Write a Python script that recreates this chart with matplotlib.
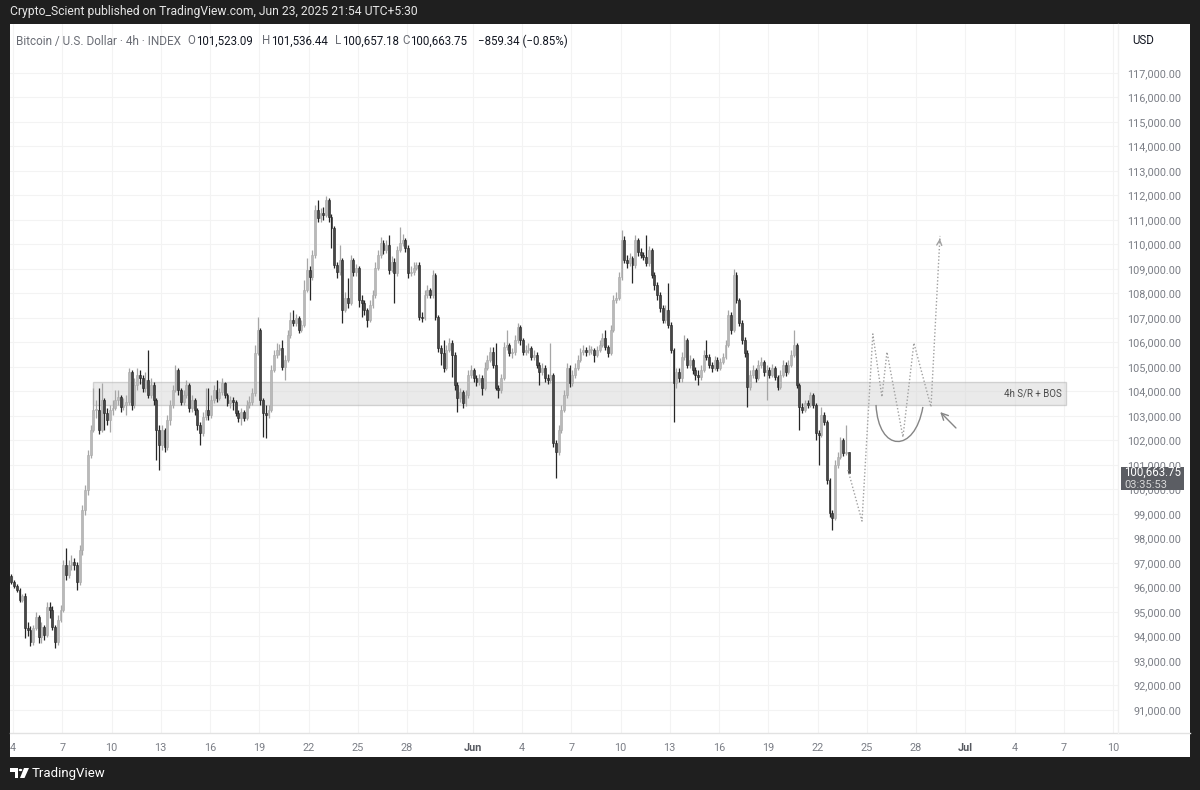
import datetime as dt
import matplotlib
matplotlib.use("Agg")
import matplotlib.pyplot as plt
import matplotlib.dates as mdates
from matplotlib.patches import Rectangle, Polygon, Circle, PathPatch
from matplotlib.path import Path
from matplotlib.lines import Line2D

plt.rcParams['font.family'] = ['Roboto', 'DejaVu Sans']

# ---------------- data (prices in thousands USD, 4h candles) ----------------
first_candle = dt.datetime(2025, 5, 3, 21, 30)
first_open = 96.47
closes = [
    96.23, 96.07, 95.90, 95.49, 95.66, 94.34, 94.27, 93.78, 94.34, 94.79,
    93.98, 94.38, 94.07, 95.20, 95.08, 94.38, 93.78, 94.67, 95.08, 96.92,
    96.51, 96.92, 97.04, 96.92, 96.23, 97.53, 99.16, 99.98, 101.41, 102.43,
    103.24, 103.24, 102.43, 103.65, 103.12, 102.84, 103.24, 103.32, 103.65, 103.77,
    103.36, 103.45, 103.57, 104.80, 103.45, 104.27, 104.68, 104.55, 104.14, 104.47,
    103.86, 104.27, 103.65, 102.43, 101.82, 102.43, 101.73, 102.84, 103.45, 104.06,
    104.88, 104.06, 103.57, 103.86, 104.27, 103.32, 103.65, 103.24, 102.64, 102.31,
    102.95, 103.24, 103.04, 103.65, 104.06, 103.73, 103.98, 104.35, 103.86, 103.53,
    103.65, 103.57, 103.12, 102.91, 103.16, 102.91, 103.45, 103.57, 103.94, 105.57,
    106.51, 103.65, 103.12, 103.04, 103.24, 104.88, 105.49, 105.69, 105.77, 105.00,
    105.29, 106.31, 106.92, 106.80, 107.00, 106.51, 106.72, 108.14, 108.96, 108.67,
    109.58, 111.41, 111.08, 111.29, 111.21, 111.82, 111.12, 110.67, 109.17, 108.88,
    109.37, 107.33, 107.81, 107.61, 109.37, 108.88, 109.04, 107.73, 107.61, 107.33,
    106.92, 107.53, 107.94, 109.04, 109.58, 110.06, 109.78, 109.98, 108.96, 109.29,
    108.84, 109.78, 110.06, 110.18, 109.85, 108.84, 108.88, 109.04, 109.17, 107.04,
    107.00, 107.94, 108.14, 107.94, 108.76, 107.04, 105.77, 105.57, 104.96, 105.69,
    105.98, 105.49, 104.27, 103.73, 103.98, 103.53, 103.86, 104.68, 104.88, 104.55,
    104.39, 104.55, 104.14, 104.96, 105.29, 105.61, 105.09, 104.14, 104.06, 104.55,
    105.81, 105.90, 105.57, 105.61, 106.10, 106.63, 106.10, 105.61, 105.69, 105.77,
    105.40, 105.49, 105.09, 104.80, 104.96, 104.55, 104.47, 104.68, 101.90, 101.53,
    102.43, 103.24, 103.86, 104.96, 104.35, 104.68, 104.96, 105.29, 105.61, 105.69,
    105.61, 105.69, 105.69, 105.49, 105.69, 105.90, 106.18, 105.81, 105.57, 106.51,
    107.73, 107.81, 108.67, 110.18, 109.37, 109.25, 109.45, 109.17, 110.18, 109.70,
    109.58, 109.49, 109.25, 109.78, 108.76, 108.35, 107.94, 107.40, 106.92, 107.33,
    106.72, 105.69, 104.35, 104.80, 104.55, 105.40, 106.10, 105.09, 105.29, 104.88,
    104.68, 104.59, 104.88, 105.49, 105.40, 105.09, 104.96, 105.29, 104.96, 105.21,
    105.40, 105.90, 107.13, 106.51, 108.76, 107.73, 106.80, 106.10, 105.57, 104.18,
    104.68, 104.88, 104.55, 105.09, 105.21, 104.80, 104.88, 104.68, 104.96, 104.59,
    104.18, 104.68, 105.09, 104.80, 105.09, 105.49, 105.90, 104.27, 103.36, 103.24,
    103.53, 103.45, 103.86, 103.45, 102.31, 102.23, 103.04, 102.76, 100.39, 99.04,
    98.83, 101.00, 101.32, 102.02, 101.49, 101.52309, 100.66375,
]
highs = [
    96.55, 96.31, 96.15, 95.98, 95.74, 95.78, 94.59, 94.43, 94.47, 95.00,
    94.88, 94.59, 94.47, 95.41, 95.41, 95.25, 94.47, 94.88, 95.29, 97.12,
    97.61, 97.12, 97.33, 97.20, 97.04, 97.74, 99.37, 100.18, 101.61, 102.63,
    104.14, 103.65, 104.14, 104.35, 103.73, 103.32, 103.45, 103.65, 104.06, 104.06,
    103.86, 103.73, 103.86, 104.96, 104.88, 104.55, 104.96, 104.88, 104.68, 104.80,
    105.69, 104.55, 104.39, 103.73, 102.63, 102.63, 102.51, 103.04, 103.65, 104.27,
    105.09, 104.96, 104.14, 104.06, 104.47, 104.35, 103.86, 103.73, 103.32, 102.76,
    103.16, 104.14, 104.14, 103.86, 104.27, 104.47, 104.14, 104.55, 104.39, 103.94,
    103.82, 103.77, 103.65, 103.24, 103.32, 103.24, 103.65, 103.82, 104.14, 105.90,
    107.04, 106.59, 103.73, 103.45, 103.45, 105.09, 105.69, 105.98, 105.94, 106.10,
    105.49, 106.51, 107.25, 107.33, 107.16, 107.08, 106.92, 108.55, 109.45, 109.12,
    109.78, 111.61, 111.82, 111.49, 111.53, 111.98, 111.90, 111.25, 110.75, 109.29,
    109.98, 109.45, 108.06, 108.63, 109.58, 109.45, 109.21, 109.12, 107.94, 107.73,
    107.40, 107.73, 108.14, 109.29, 109.78, 110.31, 110.18, 110.18, 110.39, 109.53,
    109.45, 109.94, 110.71, 110.43, 110.27, 109.98, 109.12, 109.29, 109.29, 109.29,
    107.25, 108.14, 108.35, 108.22, 108.96, 108.84, 107.12, 105.90, 106.10, 105.90,
    106.18, 106.10, 105.61, 104.39, 104.14, 104.06, 104.06, 104.88, 105.09, 104.96,
    104.68, 104.71, 104.68, 105.20, 105.49, 105.81, 105.81, 105.98, 104.27, 104.71,
    106.02, 106.51, 105.98, 105.77, 106.31, 106.80, 106.72, 106.18, 105.90, 105.98,
    105.86, 105.69, 105.61, 105.20, 105.16, 105.09, 104.71, 105.98, 104.76, 102.02,
    102.63, 103.45, 104.06, 105.16, 105.09, 104.88, 105.16, 105.49, 105.77, 105.90,
    105.81, 105.90, 105.86, 105.77, 105.86, 106.10, 106.39, 106.51, 105.90, 106.72,
    107.94, 108.06, 108.88, 110.59, 110.35, 109.58, 109.65, 109.53, 110.39, 110.27,
    109.86, 109.70, 110.39, 109.94, 109.86, 108.88, 108.47, 108.06, 107.53, 107.53,
    108.43, 106.84, 105.77, 104.96, 104.96, 105.61, 106.31, 106.18, 105.49, 105.37,
    105.00, 104.88, 105.09, 105.69, 106.10, 105.53, 105.20, 105.45, 105.41, 105.37,
    105.57, 106.10, 107.33, 107.25, 109.00, 108.88, 107.82, 106.92, 106.22, 105.69,
    104.88, 105.09, 104.96, 105.29, 105.41, 105.29, 105.09, 105.00, 105.12, 105.04,
    104.68, 104.88, 105.29, 105.20, 105.29, 105.69, 106.51, 105.98, 104.35, 103.53,
    103.65, 103.65, 103.98, 103.94, 103.53, 102.43, 103.37, 103.16, 102.84, 100.47,
    99.16, 101.20, 101.53, 102.14, 102.10, 102.63, 101.53644,
]
lows = [
    96.15, 95.98, 95.82, 95.41, 95.41, 93.94, 94.02, 93.61, 93.65, 94.27,
    93.73, 93.73, 93.86, 93.98, 94.75, 94.27, 93.53, 93.65, 94.59, 95.00,
    96.31, 96.39, 96.71, 96.71, 95.90, 96.10, 97.33, 98.96, 99.78, 101.29,
    102.35, 102.92, 102.27, 102.35, 102.43, 102.63, 102.35, 103.04, 103.24, 103.45,
    103.16, 103.24, 103.04, 103.45, 103.24, 103.32, 104.06, 104.31, 103.98, 103.98,
    103.73, 103.73, 103.45, 101.20, 100.80, 101.61, 101.53, 101.61, 102.63, 103.32,
    103.98, 103.86, 103.45, 103.45, 103.73, 103.16, 103.16, 103.04, 102.43, 101.82,
    102.18, 102.84, 102.84, 102.91, 103.53, 103.57, 103.65, 103.86, 103.73, 103.41,
    103.32, 103.24, 103.00, 102.76, 102.63, 102.80, 102.84, 103.32, 103.45, 103.82,
    105.49, 103.45, 102.14, 102.10, 102.91, 103.16, 104.80, 105.37, 105.49, 104.88,
    104.47, 105.20, 106.18, 106.67, 106.67, 106.39, 106.43, 106.63, 108.06, 107.73,
    108.55, 109.45, 110.92, 110.92, 111.00, 111.12, 110.92, 109.86, 109.04, 108.63,
    108.76, 106.80, 107.25, 107.41, 107.53, 108.71, 108.71, 107.45, 107.04, 107.12,
    106.63, 106.84, 107.41, 107.82, 108.96, 109.45, 109.61, 109.65, 108.80, 108.88,
    107.61, 108.71, 109.69, 109.94, 109.69, 108.63, 108.71, 108.76, 108.96, 106.92,
    106.84, 106.92, 107.82, 107.82, 107.82, 106.92, 105.61, 105.09, 104.80, 104.88,
    105.61, 104.59, 104.06, 103.16, 103.57, 103.32, 103.41, 103.73, 104.55, 104.39,
    104.22, 104.27, 103.86, 104.06, 104.88, 105.20, 104.96, 104.06, 103.73, 103.94,
    104.47, 105.69, 105.45, 105.37, 105.49, 105.98, 105.90, 105.49, 105.49, 105.57,
    105.29, 105.29, 104.96, 104.27, 104.68, 104.39, 104.31, 104.35, 101.73, 100.47,
    101.41, 102.31, 103.16, 103.73, 104.18, 104.22, 104.55, 104.88, 105.20, 105.49,
    105.45, 105.49, 105.53, 105.20, 105.41, 105.61, 105.81, 105.69, 105.41, 105.49,
    106.43, 107.61, 107.73, 108.55, 109.25, 109.04, 109.12, 108.43, 109.04, 109.53,
    109.45, 109.37, 109.12, 109.12, 108.63, 108.14, 107.73, 107.25, 106.80, 106.80,
    106.59, 105.57, 102.76, 104.14, 104.39, 104.39, 105.29, 104.96, 104.96, 104.71,
    104.47, 104.27, 104.47, 104.80, 105.29, 104.96, 104.80, 104.88, 104.84, 104.88,
    105.12, 105.33, 105.81, 106.35, 106.43, 107.61, 106.67, 105.94, 105.41, 103.37,
    104.06, 104.55, 104.39, 104.47, 104.96, 104.63, 103.65, 104.55, 104.59, 104.47,
    104.06, 104.10, 104.59, 104.63, 104.71, 105.00, 105.41, 104.14, 102.43, 103.12,
    103.16, 103.32, 103.37, 103.32, 102.02, 101.00, 102.14, 102.63, 100.22, 98.88,
    98.35, 98.75, 100.88, 101.24, 101.37, 101.41, 100.65718,
]

price_ticks = list(range(91, 118))          # thousands
date_ticks = [dt.datetime(2025, 5, d) for d in (4, 7, 10, 13, 16, 19, 22, 25, 28)] + \
             [dt.datetime(2025, 6, d) for d in (1, 4, 7, 10, 13, 16, 19, 22, 25, 28)] + \
             [dt.datetime(2025, 7, d) for d in (1, 4, 7, 10)]
date_labels = ['4', '7', '10', '13', '16', '19', '22', '25', '28',
               'Jun', '4', '7', '10', '13', '16', '19', '22', '25', '28',
               'Jul', '4', '7', '10']

# zone + drawings
zone_start = dt.datetime(2025, 5, 8, 21, 0)
zone_end = dt.datetime(2025, 7, 7, 3, 0)
zone_low, zone_high = 103.45, 104.37
zone_label = "4h S/R + BOS"
proj_times = [dt.datetime(2025, 6, 23, 20, 24), dt.datetime(2025, 6, 24, 17, 0),
              dt.datetime(2025, 6, 25, 8, 50), dt.datetime(2025, 6, 25, 22, 5),
              dt.datetime(2025, 6, 26, 5, 30), dt.datetime(2025, 6, 27, 4, 50),
              dt.datetime(2025, 6, 27, 20, 50), dt.datetime(2025, 6, 28, 21, 50),
              dt.datetime(2025, 6, 29, 11, 0)]
proj_prices = [100.80, 98.71, 106.35, 103.78, 105.61, 102.14, 105.98, 103.37, 110.35]
cup_times = [dt.datetime(2025, 6, 25, 13, 30), dt.datetime(2025, 6, 25, 17, 0),
             dt.datetime(2025, 6, 27, 22, 0), dt.datetime(2025, 6, 28, 10, 0)]
cup_prices = [103.45, 101.50, 101.45, 103.37]
arrow_tail = (dt.datetime(2025, 6, 30, 13, 10), 102.43)
arrow_head = (dt.datetime(2025, 6, 29, 8, 30), 103.24)

# ---------------- figure ----------------
W, H = 1200, 790
fig = plt.figure(figsize=(W / 100, H / 100), dpi=100, facecolor='#1f1f1f')


def fx(px):
    return px / W


def fy(py):
    return 1 - py / H


fig.patches.append(Rectangle((fx(10), fy(757)), fx(1180), 733 / H, transform=fig.transFigure,
                             facecolor='white', edgecolor='none', zorder=-5))
ax = fig.add_axes([fx(10), fy(733), fx(1108), 709 / H])
ax.set_zorder(2)
ax.set_facecolor('white')
for s in ax.spines.values():
    s.set_visible(False)

n = len(closes)
times = [first_candle + dt.timedelta(hours=4 * i) for i in range(n)]
tn = mdates.date2num(times)
opens = [first_open] + closes[:-1]
up_x, up_b, up_h, dn_x, dn_b, dn_h = [], [], [], [], [], []
wick_up, wick_dn = [], []
for i in range(n):
    o, c = opens[i] * 1000, closes[i] * 1000
    hi = max(highs[i] * 1000, o, c)
    lo = min(lows[i] * 1000, o, c)
    body_b = min(o, c)
    body_h = max(abs(c - o), 30)
    if c >= o:
        up_x.append(tn[i]); up_b.append(body_b); up_h.append(body_h)
        wick_up.append((tn[i], lo, hi))
    else:
        dn_x.append(tn[i]); dn_b.append(body_b); dn_h.append(body_h)
        wick_dn.append((tn[i], lo, hi))

ax.vlines([w[0] for w in wick_up], [w[1] for w in wick_up], [w[2] for w in wick_up],
          colors='#a6a6a6', lw=0.9, zorder=3)
ax.vlines([w[0] for w in wick_dn], [w[1] for w in wick_dn], [w[2] for w in wick_dn],
          colors='#262626', lw=0.9, zorder=3)
ax.bar(up_x, up_h, bottom=up_b, width=0.115, color='#b9b9b9', edgecolor='#a9a9a9',
       linewidth=0.4, zorder=4)
ax.bar(dn_x, dn_h, bottom=dn_b, width=0.115, color='#474747', edgecolor='#222222',
       linewidth=0.4, zorder=4)

x0 = mdates.date2num(dt.datetime(2025, 5, 4))
ax.set_xlim(x0 - 0.183, x0 + 67.30)
ax.set_ylim(90060, 119000)

# grid
for p in price_ticks:
    ax.axhline(p * 1000, color='#f3f3f3', lw=0.8, zorder=1)
for d in date_ticks:
    ax.axvline(mdates.date2num(d), color='#f3f3f3', lw=0.8, zorder=1)

# ticks
ax.yaxis.tick_right()
ax.set_yticks([p * 1000 for p in price_ticks])
ax.set_yticklabels([f"{p * 1000:,.2f}" for p in price_ticks])
ax.tick_params(axis='y', length=0, pad=45.5, labelsize=7.8, labelcolor='#7b7e86')
for lab in ax.get_yticklabels():
    lab.set_horizontalalignment('right')
ax.set_xticks(mdates.date2num(date_ticks))
ax.set_xticklabels(date_labels)
ax.tick_params(axis='x', length=0, pad=7, labelsize=7.8, labelcolor='#7b7e86')
for lab in ax.get_xticklabels():
    if lab.get_text() in ('Jun', 'Jul'):
        lab.set_color('#55585f')
        lab.set_fontweight('bold')

# S/R zone
zs, ze = mdates.date2num(zone_start), mdates.date2num(zone_end)
ax.add_patch(Rectangle((zs, zone_low * 1000), ze - zs, (zone_high - zone_low) * 1000,
                       facecolor='#d9d9d9', alpha=0.55, edgecolor='#b4b4b4', lw=1.0, zorder=2))
ax.text(ze - 0.25, (zone_low + zone_high) / 2 * 1000, zone_label, ha='right', va='center',
        fontsize=7, color='#4a4a4a', zorder=6)

# projection path
ax.plot(mdates.date2num(proj_times), [p * 1000 for p in proj_prices], color='#a0a0a0',
        lw=1.0, ls=(0, (1, 1.5)), zorder=6)
ax.annotate('', xy=(mdates.date2num(proj_times[-1]), proj_prices[-1] * 1000),
            xytext=(mdates.date2num(proj_times[-1]) - 0.03, proj_prices[-1] * 1000 - 250),
            arrowprops=dict(arrowstyle='->', color='#a0a0a0', lw=1.0, mutation_scale=9), zorder=6)

# cup curve
cverts = [(mdates.date2num(t), p * 1000) for t, p in zip(cup_times, cup_prices)]
ax.add_patch(PathPatch(Path(cverts, [Path.MOVETO, Path.CURVE4, Path.CURVE4, Path.CURVE4]),
                       facecolor='none', edgecolor='#858585', lw=1.0, zorder=6))
# arrow
ax.annotate('', xy=(mdates.date2num(arrow_head[0]), arrow_head[1] * 1000),
            xytext=(mdates.date2num(arrow_tail[0]), arrow_tail[1] * 1000),
            arrowprops=dict(arrowstyle='->', color='#858585', lw=1.0, mutation_scale=12), zorder=6)

# separators
fig.add_artist(Line2D([fx(10), fx(1190)], [fy(733), fy(733)], color='#e2e2e2', lw=1.0, zorder=3))
fig.add_artist(Line2D([fx(1118), fx(1118)], [fy(24), fy(733)], color='#f1f1f1', lw=1.0, zorder=3))

# last price label
fig.canvas.draw()
last_c = closes[-1] * 1000
ypx = ax.transData.transform((x0, last_c))[1]
fig.patches.append(Rectangle((fx(1121), (ypx - 17) / H), fx(63), 23 / H, transform=fig.transFigure,
                             facecolor='#5b5d63', edgecolor='none', zorder=5))
fig.text(fx(1124), (ypx + 0.5) / H, f"{last_c:,.2f}", fontsize=8.3, color='white',
         va='center', ha='left', zorder=6)
fig.text(fx(1124), (ypx - 11.5) / H, "03:35:53", fontsize=8.0, color='#d8d8d8',
         va='center', ha='left', zorder=6)

# texts
fig.text(fx(1143), fy(41), "USD", fontsize=8.3, color='#131722', ha='center', va='center')
fig.text(fx(10), fy(12), "Crypto_Scient published on TradingView.com, Jun 23, 2025 21:54 UTC+5:30",
         fontsize=8.75, color='#e6e6e6', ha='left', va='center')
hy = fy(41)
fig.text(fx(16), hy, "Bitcoin / U.S. Dollar · 4h · INDEX", fontsize=8.5, color='#6a6d75', va='center')
letters = [(195, "O"), (270.5, "H"), (341.5, "L"), (409.5, "C")]
values = [(196, "101,523.09"), (271.5, "101,536.44"), (342.5, "100,657.18"), (410.5, "100,663.75"),
          (478, "\u2212859.34 (\u22120.85%)")]
for px, s in letters:
    fig.text(fx(px), hy, s, fontsize=8.3, color='#6a6d75', va='center', ha='right')
for px, s in values:
    fig.text(fx(px), hy, s, fontsize=8.3, color='#131722', va='center', ha='left')

# TradingView logo
fig.patches.append(Polygon([(fx(10), fy(768)), (fx(18), fy(768)), (fx(18), fy(778)),
                            (fx(14.5), fy(778)), (fx(14.5), fy(771.5)), (fx(10), fy(771.5))],
                           closed=True, transform=fig.transFigure, facecolor='white', edgecolor='none'))
fig.patches.append(Circle((fx(20.5), fy(770)), 1.8 / W, transform=fig.transFigure,
                          facecolor='white', edgecolor='none'))
fig.patches.append(Polygon([(fx(24), fy(768)), (fx(29), fy(768)), (fx(24.5), fy(778)), (fx(20), fy(778))],
                           closed=True, transform=fig.transFigure, facecolor='white', edgecolor='none'))
fig.text(fx(32), fy(773), "TradingView", fontsize=9.5, color='white', va='center', ha='left')

fig.savefig("out.png", dpi=100, facecolor=fig.get_facecolor())
